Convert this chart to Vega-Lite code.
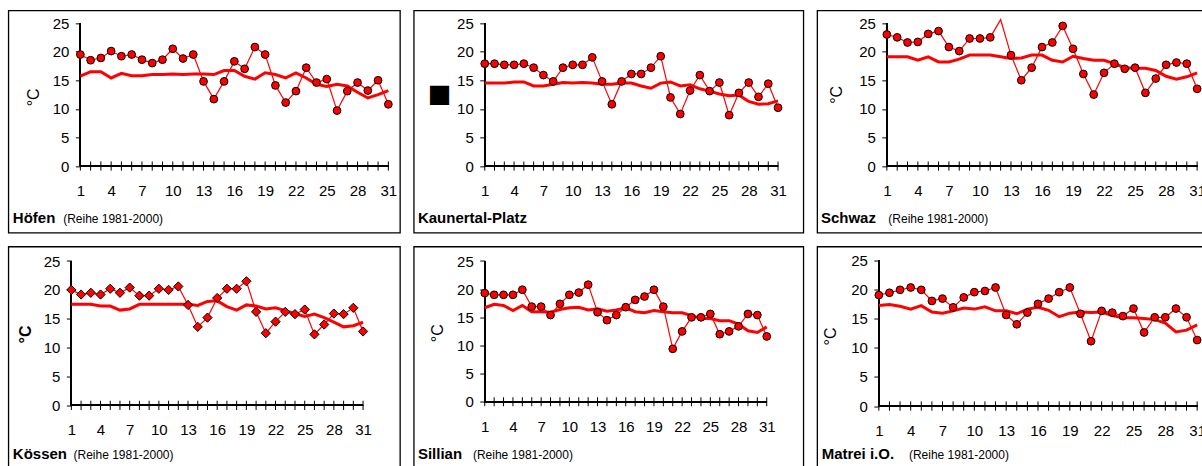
{
"$schema": "https://vega.github.io/schema/vega-lite/v6.json",
"padding": {"left": 7.35, "top": 9.35, "right": 0, "bottom": 0},
"background": "white",
"config": {
  "font": "Liberation Sans",
  "view": {"stroke": "black", "strokeWidth": 1.3},
  "axis": {"domainColor": "black", "tickColor": "black", "labelColor": "black", "titleColor": "black", "grid": false, "labelFlush": false, "labelOverlap": false, "labelFont": "Liberation Sans", "labelFontSize": 15, "titleFont": "Liberation Sans", "titlePadding": 0},
  "axisX": {"ticks": false, "domain": false, "labelPadding": 17.5, "titleAlign": "left", "titleBaseline": "alphabetic", "titleAngle": 0},
  "axisY": {"domain": false, "tickSize": 5, "labelPadding": 6.5, "titleFontSize": 16, "titleFontWeight": "normal", "titleAngle": -90, "titleAlign": "center", "titleBaseline": "middle"}
},
"bounds": "flush",
"columns": 3,
"spacing": {"row": 13.2, "column": 13.4},
"concat": [
{
 "width": 391.6, "height": 222.3,
 "resolve": {"axis": {"x": "independent", "y": "independent"}},
 "data": {"values": [
  {"day":1,"val":19.5,"mean":15.7},{"day":2,"val":18.5,"mean":16.5},{"day":3,"val":18.9,"mean":16.5},{"day":4,"val":20.1,"mean":15.4},{"day":5,"val":19.2,"mean":16.2},{"day":6,"val":19.5,"mean":15.8},{"day":7,"val":18.6,"mean":15.8},{"day":8,"val":18.0,"mean":16.0},{"day":9,"val":18.6,"mean":16.0},{"day":10,"val":20.5,"mean":16.1},{"day":11,"val":18.8,"mean":16.0},{"day":12,"val":19.5,"mean":16.1},{"day":13,"val":14.8,"mean":16.1},{"day":14,"val":11.7,"mean":16.0},{"day":15,"val":14.8,"mean":16.7},{"day":16,"val":18.3,"mean":16.7},{"day":17,"val":17.0,"mean":15.7},{"day":18,"val":20.8,"mean":15.2},{"day":19,"val":19.5,"mean":16.3},{"day":20,"val":14.1,"mean":16.0},{"day":21,"val":11.1,"mean":15.4},{"day":22,"val":13.1,"mean":16.3},{"day":23,"val":17.2,"mean":15.4},{"day":24,"val":14.6,"mean":14.3},{"day":25,"val":15.2,"mean":13.9},{"day":26,"val":9.7,"mean":14.3},{"day":27,"val":13.1,"mean":14.0},{"day":28,"val":14.6,"mean":12.9},{"day":29,"val":13.2,"mean":11.9},{"day":30,"val":15.0,"mean":12.5},{"day":31,"val":10.8,"mean":13.2}
 ]},
 "encoding": {
  "x": {"field": "day", "type": "quantitative", "scale": {"domain": [-6.013, 32.13], "nice": false, "zero": false}, "axis": null},
  "y": {"field": "val", "type": "quantitative", "scale": {"domain": [-11.643, 27.22], "nice": false, "zero": false}, "axis": null}
 },
 "layer": [
  {"mark": {"type": "rule", "color": "black", "strokeWidth": 1}, "encoding": {"x": {"datum": 1, "scale": {"domain": [-6.013, 32.13], "nice": false, "zero": false}, "axis": null}, "x2": {"datum": 31}, "y": {"datum": 0, "scale": {"domain": [-11.643, 27.22], "nice": false, "zero": false}, "axis": null}}},
  {"mark": {"type": "rule", "color": "black", "strokeWidth": 1}, "encoding": {"x": {"datum": 1, "scale": {"domain": [-6.013, 32.13], "nice": false, "zero": false}, "axis": null}, "y": {"datum": 0, "scale": {"domain": [-11.643, 27.22], "nice": false, "zero": false}, "axis": null}, "y2": {"datum": 25}}},
  {"mark": {"type": "rule", "color": "black", "strokeWidth": 1}, "encoding": {"x": {"field": "day", "type": "quantitative", "scale": {"domain": [-6.013, 32.13], "nice": false, "zero": false}, "axis": {"orient": "bottom", "offset": -66.6, "values": [1,4,7,10,13,16,19,22,25,28,31], "title": "Höfen", "titleX": 4, "titleY": 56.3, "titleFontSize": 15, "titleFontWeight": "bold"}}, "y": {"datum": -0.8, "scale": {"domain": [-11.643, 27.22], "nice": false, "zero": false}, "axis": null}, "y2": {"datum": 0.8}}},
  {"mark": {"type": "line", "color": "#ff0000", "strokeWidth": 3}, "encoding": {"y": {"field": "mean", "type": "quantitative", "scale": {"domain": [-11.643, 27.22], "nice": false, "zero": false}, "axis": null}}},
  {"mark": {"type": "line", "color": "#ff0000", "strokeWidth": 1.2}, "encoding": {"x": {"field": "day", "type": "quantitative", "scale": {"domain": [-6.013, 32.13], "nice": false, "zero": false}, "axis": {"orient": "bottom", "offset": -66.6, "labels": false, "title": "(Reihe 1981-2000)", "titleX": 54.3, "titleY": 56.3, "titleFontSize": 12, "titleFontWeight": "normal"}}, "y": {"field": "val", "type": "quantitative", "scale": {"domain": [-11.643, 27.22], "nice": false, "zero": false}, "axis": {"orient": "left", "offset": -72, "values": [0,5,10,15,20,25], "title": "°C", "titleX": -47, "titleY": 86.5}}}},
  {"mark": {"type": "point", "shape": "circle", "filled": true, "fill": "#ff0000", "stroke": "black", "strokeWidth": 1, "size": 60, "opacity": 1}, "encoding": {}}
 ]
},
{
 "width": 389.6, "height": 222.3,
 "resolve": {"axis": {"x": "independent", "y": "independent"}},
 "data": {"values": [
  {"day":1,"val":17.9,"mean":14.5},{"day":2,"val":17.9,"mean":14.5},{"day":3,"val":17.7,"mean":14.5},{"day":4,"val":17.7,"mean":14.7},{"day":5,"val":17.9,"mean":14.7},{"day":6,"val":17.2,"mean":14.0},{"day":7,"val":15.9,"mean":14.0},{"day":8,"val":14.8,"mean":14.3},{"day":9,"val":17.2,"mean":14.6},{"day":10,"val":17.7,"mean":14.5},{"day":11,"val":17.7,"mean":14.6},{"day":12,"val":19.0,"mean":14.5},{"day":13,"val":14.8,"mean":14.3},{"day":14,"val":10.8,"mean":14.3},{"day":15,"val":14.8,"mean":14.5},{"day":16,"val":16.1,"mean":14.5},{"day":17,"val":16.1,"mean":14.0},{"day":18,"val":17.2,"mean":13.6},{"day":19,"val":19.2,"mean":14.5},{"day":20,"val":12.0,"mean":14.7},{"day":21,"val":9.1,"mean":14.0},{"day":22,"val":13.2,"mean":14.2},{"day":23,"val":15.9,"mean":13.5},{"day":24,"val":13.1,"mean":13.1},{"day":25,"val":14.6,"mean":12.6},{"day":26,"val":8.9,"mean":12.3},{"day":27,"val":12.8,"mean":12.4},{"day":28,"val":14.6,"mean":11.3},{"day":29,"val":12.1,"mean":10.8},{"day":30,"val":14.4,"mean":10.9},{"day":31,"val":10.2,"mean":11.4}
 ]},
 "encoding": {
  "x": {"field": "day", "type": "quantitative", "scale": {"domain": [-6.262, 33.588], "nice": false, "zero": false}, "axis": null},
  "y": {"field": "val", "type": "quantitative", "scale": {"domain": [-11.643, 27.22], "nice": false, "zero": false}, "axis": null}
 },
 "layer": [
  {"mark": {"type": "rule", "color": "black", "strokeWidth": 1}, "encoding": {"x": {"datum": 1, "scale": {"domain": [-6.262, 33.588], "nice": false, "zero": false}, "axis": null}, "x2": {"datum": 31}, "y": {"datum": 0, "scale": {"domain": [-11.643, 27.22], "nice": false, "zero": false}, "axis": null}}},
  {"mark": {"type": "rule", "color": "black", "strokeWidth": 1}, "encoding": {"x": {"datum": 1, "scale": {"domain": [-6.262, 33.588], "nice": false, "zero": false}, "axis": null}, "y": {"datum": 0, "scale": {"domain": [-11.643, 27.22], "nice": false, "zero": false}, "axis": null}, "y2": {"datum": 25}}},
  {"mark": {"type": "rule", "color": "black", "strokeWidth": 1}, "encoding": {"x": {"field": "day", "type": "quantitative", "scale": {"domain": [-6.262, 33.588], "nice": false, "zero": false}, "axis": {"orient": "bottom", "offset": -66.6, "values": [1,4,7,10,13,16,19,22,25,28,31], "title": "Kaunertal-Platz", "titleX": 3.7, "titleY": 56.3, "titleFontSize": 15, "titleFontWeight": "bold"}}, "y": {"datum": -0.8, "scale": {"domain": [-11.643, 27.22], "nice": false, "zero": false}, "axis": null}, "y2": {"datum": 0.8}}},
  {"mark": {"type": "line", "color": "#ff0000", "strokeWidth": 3}, "encoding": {"y": {"field": "mean", "type": "quantitative", "scale": {"domain": [-11.643, 27.22], "nice": false, "zero": false}, "axis": null}}},
  {"mark": {"type": "line", "color": "#ff0000", "strokeWidth": 1.2}, "encoding": {"y": {"field": "val", "type": "quantitative", "scale": {"domain": [-11.643, 27.22], "nice": false, "zero": false}, "axis": {"orient": "left", "offset": -71, "values": [0,5,10,15,20,25], "title": "■", "titleFont": "DejaVu Sans", "titleFontSize": 25, "titleX": -47.3, "titleY": 84.3}}}},
  {"mark": {"type": "point", "shape": "circle", "filled": true, "fill": "#ff0000", "stroke": "black", "strokeWidth": 1, "size": 60, "opacity": 1}, "encoding": {}}
 ]
},
{
 "width": 391, "height": 222.3,
 "resolve": {"axis": {"x": "independent", "y": "independent"}},
 "data": {"values": [
  {"day":1,"val":23.0,"mean":19.1},{"day":2,"val":22.5,"mean":19.1},{"day":3,"val":21.6,"mean":19.1},{"day":4,"val":21.7,"mean":18.5},{"day":5,"val":23.1,"mean":19.1},{"day":6,"val":23.6,"mean":18.2},{"day":7,"val":20.8,"mean":18.2},{"day":8,"val":20.1,"mean":18.7},{"day":9,"val":22.3,"mean":19.4},{"day":10,"val":22.3,"mean":19.4},{"day":11,"val":22.5,"mean":19.4},{"day":12,"val":25.6,"mean":19.1},{"day":13,"val":19.4,"mean":18.8},{"day":14,"val":15.0,"mean":18.9},{"day":15,"val":17.2,"mean":19.4},{"day":16,"val":20.8,"mean":19.4},{"day":17,"val":21.6,"mean":18.5},{"day":18,"val":24.5,"mean":18.2},{"day":19,"val":20.5,"mean":19.2},{"day":20,"val":16.1,"mean":18.8},{"day":21,"val":12.5,"mean":18.5},{"day":22,"val":16.3,"mean":18.5},{"day":23,"val":17.9,"mean":17.9},{"day":24,"val":17.0,"mean":17.2},{"day":25,"val":17.2,"mean":17.1},{"day":26,"val":12.8,"mean":17.1},{"day":27,"val":15.3,"mean":16.7},{"day":28,"val":17.7,"mean":15.7},{"day":29,"val":18.1,"mean":15.2},{"day":30,"val":17.9,"mean":15.6},{"day":31,"val":13.5,"mean":16.3}
 ]},
 "encoding": {
  "x": {"field": "day", "type": "quantitative", "scale": {"domain": [-5.739, 32.064], "nice": false, "zero": false}, "axis": null},
  "y": {"field": "val", "type": "quantitative", "scale": {"domain": [-11.643, 27.22], "nice": false, "zero": false}, "axis": null}
 },
 "layer": [
  {"mark": {"type": "rule", "color": "black", "strokeWidth": 1}, "encoding": {"x": {"datum": 1, "scale": {"domain": [-5.739, 32.064], "nice": false, "zero": false}, "axis": null}, "x2": {"datum": 31}, "y": {"datum": 0, "scale": {"domain": [-11.643, 27.22], "nice": false, "zero": false}, "axis": null}}},
  {"mark": {"type": "rule", "color": "black", "strokeWidth": 1}, "encoding": {"x": {"datum": 1, "scale": {"domain": [-5.739, 32.064], "nice": false, "zero": false}, "axis": null}, "y": {"datum": 0, "scale": {"domain": [-11.643, 27.22], "nice": false, "zero": false}, "axis": null}, "y2": {"datum": 25}}},
  {"mark": {"type": "rule", "color": "black", "strokeWidth": 1}, "encoding": {"x": {"field": "day", "type": "quantitative", "scale": {"domain": [-5.739, 32.064], "nice": false, "zero": false}, "axis": {"orient": "bottom", "offset": -66.6, "values": [1,4,7,10,13,16,19,22,25,28,31], "title": "Schwaz", "titleX": 3.3, "titleY": 56.3, "titleFontSize": 15, "titleFontWeight": "bold"}}, "y": {"datum": -0.8, "scale": {"domain": [-11.643, 27.22], "nice": false, "zero": false}, "axis": null}, "y2": {"datum": 0.8}}},
  {"mark": {"type": "line", "color": "#ff0000", "strokeWidth": 3}, "encoding": {"y": {"field": "mean", "type": "quantitative", "scale": {"domain": [-11.643, 27.22], "nice": false, "zero": false}, "axis": null}}},
  {"mark": {"type": "line", "color": "#ff0000", "strokeWidth": 1.2}, "encoding": {"x": {"field": "day", "type": "quantitative", "scale": {"domain": [-5.739, 32.064], "nice": false, "zero": false}, "axis": {"orient": "bottom", "offset": -66.6, "labels": false, "title": "(Reihe 1981-2000)", "titleX": 70.7, "titleY": 56.3, "titleFontSize": 12, "titleFontWeight": "normal"}}, "y": {"field": "val", "type": "quantitative", "scale": {"domain": [-11.643, 27.22], "nice": false, "zero": false}, "axis": {"orient": "left", "offset": -69.7, "values": [0,5,10,15,20,25], "title": "°C", "titleX": -50.7, "titleY": 84}}}},
  {"transform": [{"filter": "datum.val <= 25"}], "mark": {"type": "point", "shape": "circle", "filled": true, "fill": "#ff0000", "stroke": "black", "strokeWidth": 1, "size": 60, "opacity": 1}, "encoding": {}}
 ]
},
{
 "width": 391.6, "height": 222.3,
 "resolve": {"axis": {"x": "independent", "y": "independent"}},
 "data": {"values": [
  {"day":1,"val":20.0,"mean":17.5},{"day":2,"val":19.2,"mean":17.5},{"day":3,"val":19.5,"mean":17.5},{"day":4,"val":19.2,"mean":17.2},{"day":5,"val":20.2,"mean":17.2},{"day":6,"val":19.5,"mean":16.5},{"day":7,"val":20.4,"mean":16.7},{"day":8,"val":19.0,"mean":17.5},{"day":9,"val":19.0,"mean":17.5},{"day":10,"val":20.2,"mean":17.5},{"day":11,"val":20.0,"mean":17.5},{"day":12,"val":20.6,"mean":17.5},{"day":13,"val":17.4,"mean":17.5},{"day":14,"val":13.6,"mean":17.3},{"day":15,"val":15.2,"mean":18.0},{"day":16,"val":18.6,"mean":18.1},{"day":17,"val":20.2,"mean":17.1},{"day":18,"val":20.2,"mean":16.5},{"day":19,"val":21.5,"mean":17.4},{"day":20,"val":16.2,"mean":17.2},{"day":21,"val":12.5,"mean":16.7},{"day":22,"val":14.5,"mean":16.9},{"day":23,"val":16.2,"mean":16.4},{"day":24,"val":15.8,"mean":15.9},{"day":25,"val":16.6,"mean":15.4},{"day":26,"val":12.3,"mean":15.8},{"day":27,"val":14.0,"mean":15.2},{"day":28,"val":15.9,"mean":14.4},{"day":29,"val":15.8,"mean":13.6},{"day":30,"val":16.9,"mean":13.8},{"day":31,"val":12.8,"mean":14.4}
 ]},
 "encoding": {
  "x": {"field": "day", "type": "quantitative", "scale": {"domain": [-5.479, 34.795], "nice": false, "zero": false}, "axis": null},
  "y": {"field": "val", "type": "quantitative", "scale": {"domain": [-11.001, 27.512], "nice": false, "zero": false}, "axis": null}
 },
 "layer": [
  {"mark": {"type": "rule", "color": "black", "strokeWidth": 1}, "encoding": {"x": {"datum": 1, "scale": {"domain": [-5.479, 34.795], "nice": false, "zero": false}, "axis": null}, "x2": {"datum": 31}, "y": {"datum": 0, "scale": {"domain": [-11.001, 27.512], "nice": false, "zero": false}, "axis": null}}},
  {"mark": {"type": "rule", "color": "black", "strokeWidth": 1}, "encoding": {"x": {"datum": 1, "scale": {"domain": [-5.479, 34.795], "nice": false, "zero": false}, "axis": null}, "y": {"datum": 0, "scale": {"domain": [-11.001, 27.512], "nice": false, "zero": false}, "axis": null}, "y2": {"datum": 25}}},
  {"mark": {"type": "rule", "color": "black", "strokeWidth": 1}, "encoding": {"x": {"field": "day", "type": "quantitative", "scale": {"domain": [-5.479, 34.795], "nice": false, "zero": false}, "axis": {"orient": "bottom", "offset": -63.5, "values": [1,4,7,10,13,16,19,22,25,28,31], "title": "Kössen", "titleX": 4, "titleY": 53.2, "titleFontSize": 15, "titleFontWeight": "bold"}}, "y": {"datum": -0.8, "scale": {"domain": [-11.001, 27.512], "nice": false, "zero": false}, "axis": null}, "y2": {"datum": 0.8}}},
  {"mark": {"type": "line", "color": "#ff0000", "strokeWidth": 3}, "encoding": {"y": {"field": "mean", "type": "quantitative", "scale": {"domain": [-11.001, 27.512], "nice": false, "zero": false}, "axis": null}}},
  {"mark": {"type": "line", "color": "#ff0000", "strokeWidth": 1.2}, "encoding": {"x": {"field": "day", "type": "quantitative", "scale": {"domain": [-5.479, 34.795], "nice": false, "zero": false}, "axis": {"orient": "bottom", "offset": -63.5, "labels": false, "title": "(Reihe 1981-2000)", "titleX": 64.7, "titleY": 53.2, "titleFontSize": 12, "titleFontWeight": "normal"}}, "y": {"field": "val", "type": "quantitative", "scale": {"domain": [-11.001, 27.512], "nice": false, "zero": false}, "axis": {"orient": "left", "offset": -63, "values": [0,5,10,15,20,25], "title": "°C", "titleFontWeight": "bold", "titleX": -46, "titleY": 87.5}}}},
  {"mark": {"type": "point", "shape": "diamond", "filled": true, "fill": "#ff0000", "stroke": "black", "strokeWidth": 1, "size": 85, "opacity": 1}, "encoding": {}}
 ]
},
{
 "width": 389.6, "height": 222.3,
 "resolve": {"axis": {"x": "independent", "y": "independent"}},
 "data": {"values": [
  {"day":1,"val":19.3,"mean":16.7},{"day":2,"val":19.0,"mean":17.3},{"day":3,"val":19.0,"mean":17.1},{"day":4,"val":19.0,"mean":16.2},{"day":5,"val":19.9,"mean":17.1},{"day":6,"val":16.9,"mean":16.0},{"day":7,"val":16.9,"mean":16.0},{"day":8,"val":15.4,"mean":15.9},{"day":9,"val":17.4,"mean":16.4},{"day":10,"val":19.0,"mean":16.7},{"day":11,"val":19.4,"mean":16.8},{"day":12,"val":20.8,"mean":16.3},{"day":13,"val":15.9,"mean":16.5},{"day":14,"val":14.5,"mean":16.1},{"day":15,"val":15.4,"mean":16.3},{"day":16,"val":16.8,"mean":16.7},{"day":17,"val":18.1,"mean":16.0},{"day":18,"val":18.7,"mean":15.8},{"day":19,"val":19.9,"mean":16.2},{"day":20,"val":16.9,"mean":16.0},{"day":21,"val":9.4,"mean":15.8},{"day":22,"val":12.5,"mean":15.8},{"day":23,"val":15.0,"mean":15.3},{"day":24,"val":15.0,"mean":14.8},{"day":25,"val":15.6,"mean":14.8},{"day":26,"val":12.0,"mean":14.4},{"day":27,"val":12.5,"mean":14.4},{"day":28,"val":13.4,"mean":13.8},{"day":29,"val":15.6,"mean":12.6},{"day":30,"val":15.4,"mean":12.3},{"day":31,"val":11.6,"mean":13.3}
 ]},
 "encoding": {
  "x": {"field": "day", "type": "quantitative", "scale": {"domain": [-6.553, 34.894], "nice": false, "zero": false}, "axis": null},
  "y": {"field": "val", "type": "quantitative", "scale": {"domain": [-11.923, 27.576], "nice": false, "zero": false}, "axis": null}
 },
 "layer": [
  {"mark": {"type": "rule", "color": "black", "strokeWidth": 1}, "encoding": {"x": {"datum": 1, "scale": {"domain": [-6.553, 34.894], "nice": false, "zero": false}, "axis": null}, "x2": {"datum": 31}, "y": {"datum": 0, "scale": {"domain": [-11.923, 27.576], "nice": false, "zero": false}, "axis": null}}},
  {"mark": {"type": "rule", "color": "black", "strokeWidth": 1}, "encoding": {"x": {"datum": 1, "scale": {"domain": [-6.553, 34.894], "nice": false, "zero": false}, "axis": null}, "y": {"datum": 0, "scale": {"domain": [-11.923, 27.576], "nice": false, "zero": false}, "axis": null}, "y2": {"datum": 25}}},
  {"mark": {"type": "rule", "color": "black", "strokeWidth": 1}, "encoding": {"x": {"field": "day", "type": "quantitative", "scale": {"domain": [-6.553, 34.894], "nice": false, "zero": false}, "axis": {"orient": "bottom", "offset": -67.1, "values": [1,4,7,10,13,16,19,22,25,28,31], "title": "Sillian", "titleX": 3.7, "titleY": 56.8, "titleFontSize": 15, "titleFontWeight": "bold"}}, "y": {"datum": -0.8, "scale": {"domain": [-11.923, 27.576], "nice": false, "zero": false}, "axis": null}, "y2": {"datum": 0.8}}},
  {"mark": {"type": "line", "color": "#ff0000", "strokeWidth": 3}, "encoding": {"y": {"field": "mean", "type": "quantitative", "scale": {"domain": [-11.923, 27.576], "nice": false, "zero": false}, "axis": null}}},
  {"mark": {"type": "line", "color": "#ff0000", "strokeWidth": 1.2}, "encoding": {"x": {"field": "day", "type": "quantitative", "scale": {"domain": [-6.553, 34.894], "nice": false, "zero": false}, "axis": {"orient": "bottom", "offset": -67.1, "labels": false, "title": "(Reihe 1981-2000)", "titleX": 58.7, "titleY": 56.8, "titleFontSize": 12, "titleFontWeight": "normal"}}, "y": {"field": "val", "type": "quantitative", "scale": {"domain": [-11.923, 27.576], "nice": false, "zero": false}, "axis": {"orient": "left", "offset": -71, "values": [0,5,10,15,20,25], "title": "°C", "titleX": -47.3, "titleY": 86.2}}}},
  {"mark": {"type": "point", "shape": "circle", "filled": true, "fill": "#ff0000", "stroke": "black", "strokeWidth": 1, "size": 60, "opacity": 1}, "encoding": {}}
 ]
},
{
 "width": 391, "height": 222.3,
 "resolve": {"axis": {"x": "independent", "y": "independent"}},
 "data": {"values": [
  {"day":1,"val":19.0,"mean":17.2},{"day":2,"val":19.4,"mean":17.4},{"day":3,"val":19.9,"mean":17.1},{"day":4,"val":20.3,"mean":16.6},{"day":5,"val":19.9,"mean":17.2},{"day":6,"val":18.0,"mean":16.1},{"day":7,"val":18.4,"mean":15.9},{"day":8,"val":16.9,"mean":16.3},{"day":9,"val":18.6,"mean":16.8},{"day":10,"val":19.5,"mean":16.6},{"day":11,"val":19.7,"mean":17.0},{"day":12,"val":20.3,"mean":16.3},{"day":13,"val":15.6,"mean":16.3},{"day":14,"val":14.0,"mean":15.8},{"day":15,"val":16.0,"mean":16.6},{"day":16,"val":17.5,"mean":16.9},{"day":17,"val":18.4,"mean":16.4},{"day":18,"val":19.5,"mean":15.3},{"day":19,"val":20.3,"mean":15.9},{"day":20,"val":15.8,"mean":16.1},{"day":21,"val":11.1,"mean":16.0},{"day":22,"val":16.3,"mean":16.1},{"day":23,"val":16.0,"mean":15.5},{"day":24,"val":15.4,"mean":15.1},{"day":25,"val":16.7,"mean":15.1},{"day":26,"val":12.6,"mean":15.0},{"day":27,"val":15.2,"mean":14.8},{"day":28,"val":15.2,"mean":14.2},{"day":29,"val":16.7,"mean":12.7},{"day":30,"val":15.2,"mean":13.0},{"day":31,"val":11.3,"mean":13.9}
 ]},
 "encoding": {
  "x": {"field": "day", "type": "quantitative", "scale": {"domain": [-4.815, 32.036], "nice": false, "zero": false}, "axis": null},
  "y": {"field": "val", "type": "quantitative", "scale": {"domain": [-10.753, 27.312], "nice": false, "zero": false}, "axis": null}
 },
 "layer": [
  {"mark": {"type": "rule", "color": "black", "strokeWidth": 1}, "encoding": {"x": {"datum": 1, "scale": {"domain": [-4.815, 32.036], "nice": false, "zero": false}, "axis": null}, "x2": {"datum": 31}, "y": {"datum": 0, "scale": {"domain": [-10.753, 27.312], "nice": false, "zero": false}, "axis": null}}},
  {"mark": {"type": "rule", "color": "black", "strokeWidth": 1}, "encoding": {"x": {"datum": 1, "scale": {"domain": [-4.815, 32.036], "nice": false, "zero": false}, "axis": null}, "y": {"datum": 0, "scale": {"domain": [-10.753, 27.312], "nice": false, "zero": false}, "axis": null}, "y2": {"datum": 25}}},
  {"mark": {"type": "rule", "color": "black", "strokeWidth": 1}, "encoding": {"x": {"field": "day", "type": "quantitative", "scale": {"domain": [-4.815, 32.036], "nice": false, "zero": false}, "axis": {"orient": "bottom", "offset": -62.8, "values": [1,4,7,10,13,16,19,22,25,28,31], "title": "Matrei i.O.", "titleX": 4, "titleY": 52.5, "titleFontSize": 15, "titleFontWeight": "bold"}}, "y": {"datum": -0.8, "scale": {"domain": [-10.753, 27.312], "nice": false, "zero": false}, "axis": null}, "y2": {"datum": 0.8}}},
  {"mark": {"type": "line", "color": "#ff0000", "strokeWidth": 3}, "encoding": {"y": {"field": "mean", "type": "quantitative", "scale": {"domain": [-10.753, 27.312], "nice": false, "zero": false}, "axis": null}}},
  {"mark": {"type": "line", "color": "#ff0000", "strokeWidth": 1.2}, "encoding": {"x": {"field": "day", "type": "quantitative", "scale": {"domain": [-4.815, 32.036], "nice": false, "zero": false}, "axis": {"orient": "bottom", "offset": -62.8, "labels": false, "title": "(Reihe 1981-2000)", "titleX": 91.3, "titleY": 52.5, "titleFontSize": 12, "titleFontWeight": "normal"}}, "y": {"field": "val", "type": "quantitative", "scale": {"domain": [-10.753, 27.312], "nice": false, "zero": false}, "axis": {"orient": "left", "offset": -61.7, "values": [0,5,10,15,20,25], "title": "°C", "titleX": -48.4, "titleY": 89.5}}}},
  {"mark": {"type": "point", "shape": "circle", "filled": true, "fill": "#ff0000", "stroke": "black", "strokeWidth": 1, "size": 60, "opacity": 1}, "encoding": {}}
 ]
}
]
}
